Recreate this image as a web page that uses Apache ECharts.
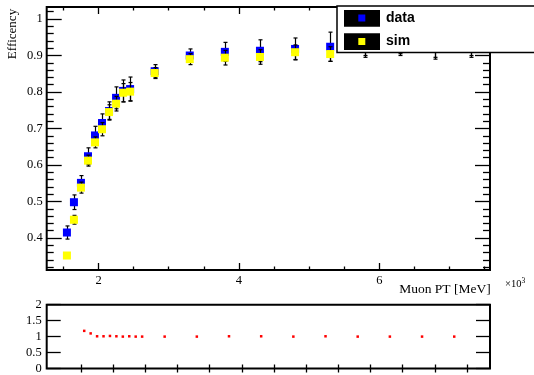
<!DOCTYPE html>
<html>
<head>
<meta charset="utf-8">
<script src="https://cdn.jsdelivr.net/npm/echarts@6/dist/echarts.min.js"></script>
<style>html,body{margin:0;padding:0;background:#fff}#c{width:534px;height:375px}</style>
</head>
<body>
<div id="c"></div>
<script>
// ---- data ----
const ptValues = [1550,1650,1750,1850,1950,2050,2150,2250,2350,2450,2800,3300,3800,4300,4800,5300,5800,6300,6800,7300];
const dataEff  = [0.415,0.498,0.551,0.624,0.681,0.715,0.748,0.784,0.803,0.808,0.857,0.900,0.910,0.913,0.918,0.924,0.930,0.935,0.925,0.930];
const dataErr  = [0.018,0.020,0.020,0.023,0.025,0.025,0.025,0.030,0.030,0.033,0.018,0.018,0.026,0.030,0.030,0.040,0.030,0.030,0.030,0.030];
const simEff   = [0.352,0.450,0.538,0.612,0.662,0.698,0.745,0.768,0.798,0.801,0.852,0.890,0.894,0.896,0.909,0.904,0.925,0.930,0.920,0.925];
const simErr   = [0.008,0.012,0.015,0.015,0.015,0.018,0.020,0.020,0.025,0.025,0.015,0.015,0.020,0.020,0.020,0.020,0.030,0.030,0.030,0.030];
const ratioVals= [1.18,1.10,1.01,1.01,1.02,1.01,1.00,1.01,1.00,1.00,1.00,1.00,1.01,1.01,1.00,1.01,1.00,1.00,1.00,1.00];

const mainXMajor = [2000,4000,6000];
const mainXMinor = [1500,2500,3000,3500,4500,5000,5500,6500,7000,7500];
const mainYMajor = [0.4,0.5,0.6,0.7,0.8,0.9,1.0];
const mainYMinor = [0.32,0.34,0.36,0.38,0.42,0.44,0.46,0.48,0.52,0.54,0.56,0.58,0.62,0.64,0.66,0.68,0.72,0.74,0.76,0.78,0.82,0.84,0.86,0.88,0.92,0.94,0.96,0.98,1.02];
const ratioYTicks = [0,0.5,1,1.5,2];
const ratioXTicks = [1500,2000,2500,3000,3500,4000,4500,5000,5500,6000,6500,7000,7500];

const MAIN_X = [1262, 7577], MAIN_Y = [0.3123, 1.0329];
const LOW_X = [967, 7856], LOW_Y = [0, 2];
const SERIF = '"Liberation Serif", "DejaVu Serif", serif';

function axisBase(grid, pos, range, ticks, len, labelCfg) {
  return {
    type: 'value', gridIndex: grid, position: pos, min: range[0], max: range[1],
    axisLine: {show: false}, splitLine: {show: false},
    axisTick: {show: true, inside: true, length: len, customValues: ticks, lineStyle: {color: '#000', width: 1.3}},
    axisLabel: labelCfg ? Object.assign({customValues: labelCfg.values, color: '#000', fontFamily: SERIF, fontSize: 12.5}, labelCfg.extra) : {show: false}
  };
}

const xAxes = [
  axisBase(0, 'bottom', MAIN_X, mainXMajor, 7, {values: mainXMajor, extra: {margin: 4, formatter: v => String(v/1000)}}),
  axisBase(0, 'bottom', MAIN_X, mainXMinor, 3.5),
  axisBase(0, 'top', MAIN_X, mainXMajor, 7),
  axisBase(0, 'top', MAIN_X, mainXMinor, 3.5),
  axisBase(1, 'bottom', LOW_X, ratioXTicks, 4),
  axisBase(1, 'top', LOW_X, ratioXTicks, 4)
];
const yAxes = [
  axisBase(0, 'left', MAIN_Y, mainYMajor, 15, {values: mainYMajor, extra: {margin: 4, formatter: v => String(Math.round(v*10)/10)}}),
  axisBase(0, 'left', MAIN_Y, mainYMinor, 7),
  axisBase(0, 'right', MAIN_Y, mainYMajor, 15),
  axisBase(0, 'right', MAIN_Y, mainYMinor, 7),
  axisBase(1, 'left', LOW_Y, ratioYTicks, 14, {values: ratioYTicks, extra: {margin: 5, formatter: v => String(v)}}),
  axisBase(1, 'right', LOW_Y, ratioYTicks, 14)
];

function errSeries(vals, errs, z) {
  return {
    type: 'custom', xAxisIndex: 0, yAxisIndex: 0, z: z, silent: true,
    encode: {x: 0, y: [1, 2]},
    data: ptValues.map((x, i) => [x, vals[i] - errs[i], vals[i] + errs[i]]),
    renderItem: function (params, api) {
      const lo = api.coord([api.value(0), api.value(1)]);
      const hi = api.coord([api.value(0), api.value(2)]);
      const cx = Math.round(lo[0]) + 0.5, c = 2;
      const st = {stroke: '#000', lineWidth: 1.2};
      return {type: 'group', children: [
        {type: 'line', shape: {x1: cx, y1: lo[1], x2: cx, y2: hi[1]}, style: st},
        {type: 'line', shape: {x1: cx - c, y1: lo[1], x2: cx + c, y2: lo[1]}, style: st},
        {type: 'line', shape: {x1: cx - c, y1: hi[1], x2: cx + c, y2: hi[1]}, style: st}
      ]};
    }
  };
}

const option = {
  animation: false,
  backgroundColor: '#fff',
  grid: [
    {left: 46.7, top: 7, width: 443.3, height: 263, show: true, borderColor: '#000', borderWidth: 2, backgroundColor: 'transparent'},
    {left: 46.7, top: 304.7, width: 443.3, height: 65.6, show: true, borderColor: '#000', borderWidth: 2, backgroundColor: 'transparent'}
  ],
  xAxis: xAxes,
  yAxis: yAxes,
  series: [
    errSeries(dataEff, dataErr, 3),
    {type: 'scatter', name: 'data', xAxisIndex: 0, yAxisIndex: 0, z: 4, symbol: 'rect', symbolSize: 8,
     itemStyle: {color: '#0000ff', opacity: 1}, data: ptValues.map((x, i) => [x, dataEff[i]])},
    errSeries(simEff, simErr, 5),
    {type: 'scatter', name: 'sim', xAxisIndex: 0, yAxisIndex: 0, z: 6, symbol: 'rect', symbolSize: 8,
     itemStyle: {color: '#ffff00', opacity: 1}, data: ptValues.map((x, i) => [x, simEff[i]])},
    {type: 'scatter', name: 'ratio', xAxisIndex: 4, yAxisIndex: 4, z: 4, symbol: 'rect', symbolSize: 2.5,
     itemStyle: {color: '#ff0000', opacity: 1}, data: ptValues.map((x, i) => [x, ratioVals[i]])}
  ],
  graphic: [
    {type: 'text', z: 100, x: 13, y: 34, rotation: Math.PI / 2,
     style: {text: 'Efficency', font: '13px ' + SERIF, fill: '#000', align: 'center', verticalAlign: 'middle'}},
    {type: 'text', z: 100, x: 490.7, y: 289,
     style: {text: 'Muon PT [MeV]', font: '13.5px ' + SERIF, fill: '#000', align: 'right', verticalAlign: 'middle'}},
    {type: 'text', z: 100, x: 505, y: 284,
     style: {text: '×10{s|3}', font: '10.5px ' + SERIF, fill: '#000', align: 'left', verticalAlign: 'middle',
             rich: {s: {fontSize: 7.5, fontFamily: 'Liberation Serif', verticalAlign: 'top', padding: [0, 0, 6, 0]}}}},
    {type: 'rect', z: 100, shape: {x: 337, y: 6, width: 220, height: 46.5}, style: {fill: '#fff', stroke: '#000', lineWidth: 1.5}},
    {type: 'rect', z: 101, shape: {x: 344, y: 10, width: 36, height: 16.7}, style: {fill: '#000'}},
    {type: 'rect', z: 102, shape: {x: 358.3, y: 14.5, width: 7, height: 7}, style: {fill: '#0000ff'}},
    {type: 'text', z: 102, x: 386, y: 18.5, style: {text: 'data', font: 'bold 14px "Liberation Sans", Arial, sans-serif', fill: '#000', verticalAlign: 'middle'}},
    {type: 'rect', z: 101, shape: {x: 344, y: 33.3, width: 36, height: 16.7}, style: {fill: '#000'}},
    {type: 'rect', z: 102, shape: {x: 358.3, y: 38, width: 7, height: 7}, style: {fill: '#ffff00'}},
    {type: 'text', z: 102, x: 386, y: 41.5, style: {text: 'sim', font: 'bold 14px "Liberation Sans", Arial, sans-serif', fill: '#000', verticalAlign: 'middle'}}
  ]
};

const chart = echarts.init(document.getElementById('c'), null, {renderer: 'canvas'});
chart.setOption(option);
</script>
</body>
</html>
